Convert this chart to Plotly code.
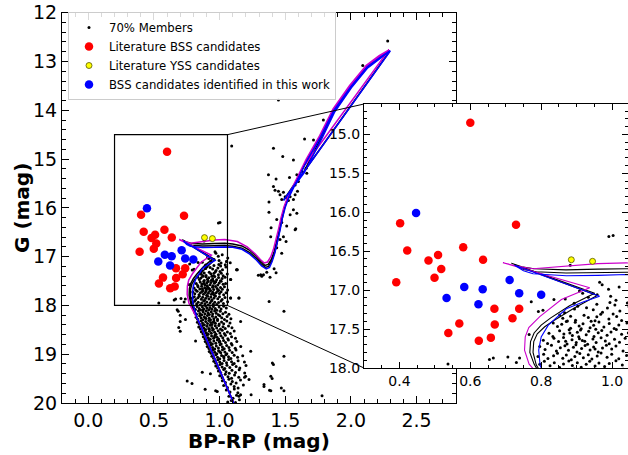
import plotly.graph_objects as go

# ---------------- data ----------------
member_points = [
    (0.882,16.68),(0.965,16.90),(0.972,16.93),(1.02,16.96),(0.99,16.99),(0.991,16.31),(1.003,16.30),
    (0.908,17.01),(0.917,17.04),(0.958,17.06),(0.996,17.08),(1.062,17.03),(1.053,17.10),(0.933,17.09),
    (0.772,17.15),(0.836,17.12),(0.994,17.16),(1.008,17.19),(1.011,17.13),(0.957,17.18),(0.893,17.17),(0.868,17.115),(1.043,17.165),(1.081,17.125),
    (0.805,17.26),(0.792,17.275),(0.928,17.225),(0.947,17.252),(0.973,17.283),(0.987,17.231),(0.866,17.292),(0.894,17.243),(1.022,17.268),(1.13,17.27),(1.048,17.214),(0.903,17.206),
    (0.852,17.318),(0.861,17.362),(0.883,17.334),(0.897,17.387),(0.921,17.322),(0.933,17.351),(0.952,17.394),(0.968,17.309),(0.991,17.372),(1.013,17.338),(1.027,17.391),(0.874,17.395),(0.957,17.343),(1.003,17.305),(1.058,17.355),
    (0.834,17.422),(0.846,17.468),(0.858,17.437),(0.883,17.489),(0.896,17.413),(0.907,17.462),(0.918,17.431),(0.938,17.482),(0.948,17.451),(0.963,17.409),(0.977,17.473),(0.992,17.428),(1.006,17.492),(1.019,17.447),(1.042,17.421),(0.913,17.497),(0.871,17.404),(1.084,17.471),(0.941,17.401),
    (0.766,17.57),(0.822,17.553),(0.833,17.594),(0.852,17.521),(0.864,17.562),(0.879,17.508),(0.888,17.583),(0.902,17.541),(0.911,17.512),(0.927,17.574),(0.934,17.529),(0.949,17.596),(0.961,17.548),(0.971,17.517),(0.986,17.579),(0.997,17.538),(1.012,17.506),(1.027,17.566),(1.046,17.551),(0.906,17.598),(0.954,17.503),(0.881,17.549),
    (0.806,17.643),(0.818,17.684),(0.836,17.619),(0.849,17.661),(0.863,17.607),(0.873,17.692),(0.887,17.638),(0.899,17.671),(0.908,17.623),(0.923,17.657),(0.931,17.694),(0.946,17.628),(0.955,17.672),(0.969,17.611),(0.981,17.654),(0.992,17.688),(1.007,17.632),(1.021,17.669),(1.037,17.617),(1.061,17.683),(0.916,17.646),(0.869,17.658),
    (0.796,17.724),(0.811,17.763),(0.829,17.708),(0.843,17.781),(0.854,17.739),(0.867,17.714),(0.877,17.772),(0.891,17.733),(0.901,17.793),(0.914,17.748),(0.924,17.711),(0.938,17.769),(0.948,17.729),(0.961,17.794),(0.973,17.742),(0.984,17.709),(0.999,17.757),(1.011,17.719),(1.031,17.783),(1.049,17.738),(0.898,17.702),(0.952,17.756),
    (0.791,17.853),(0.807,17.822),(0.819,17.879),(0.835,17.843),(0.846,17.811),(0.861,17.874),(0.871,17.832),(0.885,17.893),(0.895,17.851),(0.909,17.814),(0.919,17.868),(0.933,17.829),(0.943,17.884),(0.958,17.846),(0.969,17.806),(0.986,17.862),(0.999,17.823),(1.019,17.881),(1.041,17.838),(0.654,17.89),(0.665,17.87),(0.706,17.86),(0.739,17.87),(1.084,17.85),(1.147,17.85),
    (0.73,17.93),(0.796,17.951),(0.809,17.914),(0.825,17.972),(0.837,17.933),(0.852,17.992),(0.863,17.948),(0.878,17.909),(0.888,17.968),(0.902,17.931),(0.913,17.989),(0.927,17.952),(0.937,17.912),(0.952,17.974),(0.963,17.936),(0.979,17.982),(0.992,17.941),(1.011,17.908),(1.029,17.962),(1.061,17.923),(1.377,17.92),(0.537,17.95),
    (0.801,18.042),(0.816,18.081),(0.829,18.021),(0.844,18.063),(0.855,18.092),(0.869,18.034),(0.879,18.071),(0.893,18.012),(0.903,18.054),(0.917,18.088),(0.927,18.043),(0.941,18.079),(0.952,18.024),(0.967,18.061),(0.979,18.097),(0.996,18.031),(1.011,18.074),(1.031,18.015),(1.051,18.053),(0.677,18.09),(0.873,18.096),
    (0.685,18.12),(0.811,18.143),(0.824,18.182),(0.839,18.114),(0.85,18.163),(0.864,18.191),(0.874,18.132),(0.888,18.171),(0.898,18.108),(0.912,18.152),(0.922,18.188),(0.936,18.129),(0.947,18.174),(0.962,18.113),(0.974,18.158),(0.991,18.193),(1.005,18.121),(1.025,18.169),(1.045,18.141),(1.071,18.183),(1.49,18.12),(0.70,18.2),
    (0.74,18.29),(0.821,18.241),(0.833,18.283),(0.848,18.214),(0.859,18.252),(0.873,18.292),(0.883,18.231),(0.897,18.268),(0.907,18.209),(0.921,18.259),(0.931,18.294),(0.945,18.223),(0.956,18.271),(0.971,18.239),(0.984,18.284),(1.001,18.212),(1.016,18.253),(1.037,18.288),(1.057,18.227),(1.086,18.272),(0.891,18.256),
    (0.70,18.33),(0.831,18.344),(0.844,18.381),(0.859,18.313),(0.87,18.362),(0.884,18.394),(0.894,18.328),(0.908,18.371),(0.918,18.309),(0.932,18.352),(0.942,18.391),(0.957,18.321),(0.968,18.364),(0.984,18.311),(0.997,18.383),(1.015,18.342),(1.031,18.374),(1.055,18.318),(1.079,18.361),(1.16,18.33),(0.951,18.347),
    (0.689,18.45),(0.841,18.443),(0.854,18.482),(0.869,18.414),(0.88,18.461),(0.894,18.491),(0.904,18.428),(0.918,18.472),(0.928,18.407),(0.942,18.453),(0.952,18.489),(0.967,18.419),(0.978,18.462),(0.994,18.411),(1.007,18.481),(1.026,18.438),(1.043,18.474),(1.068,18.422),(1.094,18.459),(0.921,18.486),
    (0.70,18.53),(0.861,18.542),(0.873,18.581),(0.888,18.513),(0.899,18.562),(0.913,18.592),(0.923,18.529),(0.937,18.571),(0.947,18.508),(0.962,18.552),(0.973,18.589),(0.989,18.521),(1.002,18.563),(1.02,18.511),(1.036,18.578),(1.059,18.543),(1.082,18.574),(1.111,18.522),
    (0.876,18.643),(0.888,18.684),(0.903,18.612),(0.914,18.661),(0.929,18.693),(0.939,18.628),(0.954,18.672),(0.965,18.609),(0.981,18.652),(0.993,18.688),(1.01,18.622),(1.024,18.664),(1.044,18.613),(1.063,18.681),(1.091,18.642),(1.121,18.671),(0.961,18.647),
    (0.817,18.73),(0.891,18.741),(0.903,18.782),(0.919,18.713),(0.93,18.761),(0.945,18.792),(0.956,18.728),(0.971,18.773),(0.983,18.709),(0.999,18.754),(1.012,18.789),(1.03,18.721),(1.045,18.762),(1.067,18.711),(1.089,18.779),(1.131,18.741),(1.001,18.736),
    (0.906,18.843),(0.919,18.881),(0.935,18.812),(0.947,18.862),(0.963,18.891),(0.975,18.831),(0.991,18.873),(1.004,18.808),(1.021,18.852),(1.035,18.888),(1.054,18.823),(1.071,18.864),(1.095,18.812),(1.119,18.879),(1.161,18.842),
    (0.921,18.942),(0.935,18.981),(0.951,18.912),(0.963,18.961),(0.979,18.992),(0.992,18.928),(1.009,18.972),(1.022,18.909),(1.04,18.954),(1.055,18.988),(1.076,18.921),(1.096,18.963),(1.125,18.914),(1.237,18.94),(1.001,18.947),
    (0.941,19.043),(0.954,19.081),(0.971,19.012),(0.984,19.061),(1.001,19.092),(1.015,19.028),(1.033,19.072),(1.048,19.009),(1.068,19.054),(1.086,19.088),(1.111,19.021),(1.137,19.063),(1.176,19.034),(1.49,19.04),(1.031,19.046),
    (0.956,19.142),(0.969,19.181),(0.987,19.112),(1.001,19.162),(1.019,19.191),(1.034,19.128),(1.053,19.173),(1.069,19.109),(1.091,19.154),(1.111,19.189),(1.141,19.133),(1.189,19.162),(1.402,19.18),(1.41,19.21),
    (0.971,19.243),(0.985,19.281),(1.004,19.212),(1.019,19.261),(1.039,19.292),(1.056,19.228),(1.078,19.272),(1.099,19.209),(1.126,19.254),(1.154,19.284),(1.201,19.232),
    (0.868,19.37),(0.93,19.40),(0.991,19.343),(1.009,19.381),(1.031,19.312),(1.049,19.362),(1.073,19.391),(1.094,19.328),(1.121,19.373),(1.149,19.321),(1.191,19.384),
    (1.001,19.442),(1.019,19.481),(1.043,19.412),(1.064,19.462),(1.091,19.492),(1.114,19.428),(1.146,19.472),(1.19,19.47),(1.198,19.45),(1.4,19.5),(1.39,19.45),
    (0.753,19.55),(0.79,19.6),(1.224,19.52),(1.021,19.542),(1.044,19.581),(1.071,19.512),(1.097,19.561),(1.126,19.592),(1.159,19.528),
    (1.338,19.62),(1.031,19.643),(1.059,19.682),(1.086,19.612),(1.111,19.661),(1.141,19.691),(1.181,19.632),(1.47,19.69),(1.338,19.66),
    (0.89,19.72),(0.97,19.75),(0.982,19.765),(1.39,19.75),(1.49,19.75),(1.38,19.74),(1.051,19.733),(1.079,19.772),(1.112,19.711),(1.139,19.792),
    (1.16,19.83),(1.24,19.83),(1.147,19.86),(1.78,19.85),(1.071,19.861),(1.102,19.902),(1.129,19.843),(1.089,19.951),(1.151,19.932),(1.062,19.981),(1.121,19.992),
    # subgiant / red giant branch and field
    (1.448,13.79),(1.092,14.73),(1.41,14.78),(1.647,14.59),(1.715,14.61),(1.79,14.2),(1.481,14.95),(1.562,15.02),
    (1.372,15.32),(1.43,15.41),(1.532,15.38),(1.588,15.32),(1.60,15.46),(1.575,15.53),(1.626,15.25),(1.664,15.29),(1.659,15.19),
    (1.41,15.56),(1.422,15.64),(1.448,15.66),(1.46,15.73),(1.486,15.68),(1.499,15.77),(1.511,15.80),(1.473,15.83),(1.524,15.85),
    (1.537,15.77),(1.562,15.83),(1.575,15.73),(1.593,15.66),(1.562,16.04),(1.588,16.11),(1.537,16.14),(1.376,15.88),(1.376,16.09),
    (1.435,16.24),(1.473,16.30),(1.511,16.37),(1.575,16.45),(1.392,16.41),(1.486,16.59),(1.46,16.65),(1.506,16.69),(1.435,16.82),(1.473,16.93),
    (1.053,17.10),(1.13,17.27),(1.295,17.38),(1.321,17.40),(1.334,17.37),(1.359,17.32),(1.384,17.42),(1.43,17.33),(1.415,17.25),
    (1.389,16.59),(1.58,16.43),(1.084,17.47),(1.135,17.27),(1.313,17.37),(2.09,13.08),(2.28,12.58),(1.147,17.85),(1.084,17.85),
]
member_bp_rp = [p[0] for p in member_points]
member_g = [p[1] for p in member_points]

lit_bss_bp_rp = [0.600, 0.402, 0.422, 0.482, 0.509, 0.518, 0.499, 0.391, 0.580, 0.636,
                 0.729, 0.668, 0.738, 0.719, 0.669, 0.569, 0.538, 0.624, 0.658]
lit_bss_g = [14.85, 16.14, 16.49, 16.62, 16.55, 16.73, 16.84, 16.90, 16.45, 16.61,
             16.16, 17.24, 17.24, 17.36, 17.44, 17.43, 17.55, 17.65, 17.61]

lit_yss_bp_rp = [0.885, 0.945]
lit_yss_g = [16.61, 16.63]

new_bss_bp_rp = [0.447, 0.533, 0.583, 0.635, 0.623, 0.711, 0.738, 0.800]
new_bss_g = [16.01, 17.10, 16.96, 16.99, 17.18, 16.87, 17.04, 17.06]

# isochrones (BP-RP, G)
iso_black_a = [
    (1.107,20.0),(1.075,19.8),(1.045,19.6),(1.015,19.4),(0.985,19.2),(0.952,19.0),(0.92,18.8),(0.888,18.6),
    (0.857,18.42),(0.83,18.27),(0.80,18.1),(0.78,17.95),(0.768,17.8),(0.77,17.66),(0.78,17.55),(0.80,17.45),
    (0.826,17.36),(0.88,17.2),(0.951,17.04),(0.716,16.655),(0.745,16.70),(0.78,16.725),(0.87,16.74),(0.96,16.73),
    (1.04,16.725),(1.10,16.74),(1.17,16.78),(1.23,16.87),(1.28,16.99),(1.315,17.1),(1.345,17.18),(1.37,17.16),
    (1.395,17.05),(1.415,16.9),(1.435,16.7),(1.455,16.45),(1.473,16.2),(1.495,15.98),(1.524,15.77),(1.588,15.42),
    (1.664,15.02),(1.766,14.54),(1.868,13.99),(1.995,13.51),(2.122,13.1),(2.22,12.9),(2.295,12.79),
    (1.488,15.84),(1.56,15.55),(1.64,15.27),(1.69,15.0),(1.775,14.56),(1.873,14.02),(2.0,13.53),(2.125,13.12),(2.225,12.91),(2.295,12.79),
]
iso_black_b = [
    (1.107,20.0),(1.075,19.8),(1.045,19.6),(1.015,19.4),(0.985,19.2),(0.952,19.0),(0.92,18.8),(0.888,18.6),
    (0.857,18.42),(0.83,18.27),(0.805,18.1),(0.786,17.96),(0.777,17.8),(0.779,17.66),(0.789,17.56),(0.81,17.47),
    (0.836,17.39),(0.89,17.24),(0.958,17.07),(0.725,16.675),(0.75,16.735),(0.785,16.765),(0.87,16.78),(0.96,16.775),
    (1.04,16.77),(1.10,16.785),(1.17,16.825),(1.23,16.915),(1.28,17.035),(1.315,17.14),(1.347,17.22),(1.373,17.2),
    (1.398,17.08),(1.418,16.92),(1.438,16.72),(1.457,16.46),(1.475,16.21),(1.496,15.985),(1.524,15.77),(1.588,15.42),
    (1.664,15.02),(1.766,14.54),(1.868,13.99),(1.995,13.51),(2.122,13.1),(2.22,12.9),(2.295,12.79),
]
iso_magenta = [
    (1.107,20.0),(1.075,19.8),(1.045,19.6),(1.015,19.4),(0.985,19.2),(0.952,19.0),(0.92,18.8),(0.888,18.6),
    (0.857,18.42),(0.83,18.27),(0.795,18.1),(0.766,17.95),(0.753,17.77),(0.755,17.6),(0.765,17.48),(0.796,17.34),
    (0.857,17.12),(0.937,16.97),(0.692,16.648),(0.73,16.69),(0.777,16.725),(0.871,16.69),(0.96,16.66),(1.04,16.65),
    (1.135,16.69),(1.21,16.8),(1.27,16.94),(1.31,17.06),(1.34,17.13),(1.365,17.11),(1.39,17.0),(1.41,16.85),
    (1.43,16.65),(1.45,16.42),(1.468,16.2),(1.49,15.98),(1.52,15.77),(1.585,15.41),(1.66,15.0),(1.762,14.52),
    (1.864,13.97),(1.99,13.49),(2.117,13.08),(2.215,12.88),(2.29,12.76),
    (1.655,15.1),(1.70,14.88),(1.77,14.53),(1.87,14.0),(1.995,13.5),(2.12,13.09),(2.22,12.89),(2.29,12.76),
]
iso_blue = [
    (1.107,20.0),(1.075,19.8),(1.045,19.6),(1.015,19.4),(0.985,19.2),(0.952,19.0),(0.92,18.8),(0.888,18.6),
    (0.857,18.42),(0.83,18.27),(0.812,18.1),(0.797,17.97),(0.793,17.77),(0.80,17.6),(0.82,17.45),(0.85,17.33),
    (0.871,17.24),(0.92,17.15),(0.965,17.08),(0.725,16.68),(0.75,16.75),(0.777,16.79),(0.871,16.815),(0.96,16.81),
    (1.04,16.80),(1.10,16.81),(1.17,16.85),(1.23,16.95),(1.28,17.07),(1.32,17.19),(1.355,17.25),(1.38,17.22),
    (1.40,17.1),(1.42,16.93),(1.44,16.72),(1.46,16.46),(1.478,16.21),(1.5,15.99),(1.528,15.78),(1.59,15.43),
    (1.666,15.03),(1.768,14.55),(1.87,14.0),(1.998,13.52),(2.125,13.11),(2.225,12.91),(2.30,12.78),
    (1.486,15.85),(1.565,15.56),(1.645,15.28),(1.695,15.01),(1.78,14.57),(1.877,14.03),(2.003,13.54),(2.128,13.13),(2.228,12.92),(2.30,12.78),
]

main_xlim = [-0.2, 2.8]
main_ylim = [20, 12]
inset_xlim = [0.3, 1.045]
inset_ylim = [18.0, 14.61]
zoom_box_bp_rp = [0.2, 1.06]
zoom_box_g = [14.5, 18.0]

# ---------------- layout geometry ----------------
W, H = 628, 455
main_dom_x = [62 / W, 456 / W]
main_dom_y = [1 - 403 / H, 1 - 12.7 / H]
inset_dom_x = [364 / W, 1.0]
inset_dom_y = [1 - 368 / H, 1 - 104 / H]

FONT = "DejaVu Sans"
fig = go.Figure()


def add_all(xa, ya, iso_w, show):
    fig.add_trace(go.Scatter(x=member_bp_rp, y=member_g, mode="markers", xaxis=xa, yaxis=ya,
                             marker=dict(color="black", size=3), name="70% Members", showlegend=show))
    for pts, col in [(iso_black_a, "black"), (iso_black_b, "black"),
                     (iso_magenta, "#cc00cc"), (iso_blue, "#0000ff")]:
        fig.add_trace(go.Scatter(x=[p[0] for p in pts], y=[p[1] for p in pts], mode="lines",
                                 xaxis=xa, yaxis=ya, line=dict(color=col, width=iso_w),
                                 showlegend=False, hoverinfo="skip"))
    fig.add_trace(go.Scatter(x=lit_bss_bp_rp, y=lit_bss_g, mode="markers", xaxis=xa, yaxis=ya,
                             marker=dict(color="#ff0000", size=8.5), name="Literature BSS candidates",
                             showlegend=show))
    fig.add_trace(go.Scatter(x=lit_yss_bp_rp, y=lit_yss_g, mode="markers", xaxis=xa, yaxis=ya,
                             marker=dict(color="#ffff00", size=6, line=dict(color="#555500", width=0.8)),
                             name="Literature YSS candidates", showlegend=show))
    fig.add_trace(go.Scatter(x=new_bss_bp_rp, y=new_bss_g, mode="markers", xaxis=xa, yaxis=ya,
                             marker=dict(color="#0000ff", size=8.5),
                             name="BSS candidates identified in this work", showlegend=show))


add_all("x", "y", 1.5, True)
add_all("x2", "y2", 1.1, False)

ax_common = dict(showline=True, linecolor="black", linewidth=1.2, mirror="ticks", ticks="inside",
                 tickcolor="black", showgrid=False, zeroline=False, automargin=False)

fig.update_layout(
    xaxis=dict(domain=main_dom_x, range=main_xlim, dtick=0.5, tick0=0, tickformat=".1f", ticklen=7,
               tickwidth=1.1, tickfont=dict(family=FONT, color="black", size=19),
               minor=dict(ticks="inside", dtick=0.1, ticklen=4, tickcolor="black", showgrid=False),
               anchor="y", **ax_common),
    yaxis=dict(domain=main_dom_y, range=main_ylim, dtick=1, tick0=0, ticklen=7, tickwidth=1.1,
               tickfont=dict(family=FONT, color="black", size=19),
               minor=dict(ticks="inside", dtick=0.2, ticklen=4, tickcolor="black", showgrid=False),
               anchor="x", **ax_common),
    xaxis2=dict(domain=inset_dom_x, range=inset_xlim, dtick=0.2, tick0=0, tickformat=".1f", ticklen=6,
                tickfont=dict(family=FONT, color="black", size=14),
                minor=dict(ticks="inside", dtick=0.05, ticklen=3, tickcolor="black", showgrid=False),
                anchor="y2", **ax_common),
    yaxis2=dict(domain=inset_dom_y, range=inset_ylim, dtick=0.5, tick0=0, tickformat=".1f", ticklen=6,
                tickfont=dict(family=FONT, color="black", size=14),
                minor=dict(ticks="inside", dtick=0.1, ticklen=3, tickcolor="black", showgrid=False),
                anchor="x2", **ax_common),
)


def to_paper(bx, g):
    fx = (bx - main_xlim[0]) / (main_xlim[1] - main_xlim[0])
    fy = (g - main_ylim[0]) / (main_ylim[1] - main_ylim[0])
    return (main_dom_x[0] + fx * (main_dom_x[1] - main_dom_x[0]),
            main_dom_y[0] + fy * (main_dom_y[1] - main_dom_y[0]))


fig.add_shape(type="rect", xref="x", yref="y", x0=zoom_box_bp_rp[0], x1=zoom_box_bp_rp[1],
              y0=zoom_box_g[0], y1=zoom_box_g[1], line=dict(color="black", width=1.2), layer="above")
tr = to_paper(zoom_box_bp_rp[1], zoom_box_g[0])
br = to_paper(zoom_box_bp_rp[1], zoom_box_g[1])
fig.add_shape(type="line", xref="paper", yref="paper", x0=tr[0], y0=tr[1], x1=inset_dom_x[0], y1=inset_dom_y[1],
              line=dict(color="black", width=1))
fig.add_shape(type="line", xref="paper", yref="paper", x0=br[0], y0=br[1], x1=inset_dom_x[0], y1=inset_dom_y[0],
              line=dict(color="black", width=1))

fig.add_annotation(text="<b>G (mag)</b>", xref="paper", yref="paper", x=22 / W, y=1 - 208 / H,
                   xanchor="center", yanchor="middle",
                   showarrow=False, textangle=-90, font=dict(family=FONT, size=20, color="black"))
fig.add_annotation(text="<b>BP-RP (mag)</b>", xref="paper", yref="paper", x=259 / W, y=1 - 441 / H,
                   xanchor="center", yanchor="middle",
                   showarrow=False, font=dict(family=FONT, size=20, color="black"))

fig.update_layout(
    width=W, height=H, margin=dict(l=0, r=0, t=0, b=0),
    paper_bgcolor="white", plot_bgcolor="white", template="none",
    font=dict(family=FONT, color="black"),
    showlegend=True,
    legend=dict(x=68 / W, y=1 - 12 / H, xanchor="left", yanchor="top",
                bgcolor="rgba(255,255,255,0.85)", bordercolor="#cccccc", borderwidth=1,
                font=dict(family=FONT, size=11.7, color="black"), tracegroupgap=0),
)

fig.write_html("out.html", config={"displayModeBar": False},
               post_script="document.body.style.margin='0px';document.body.style.padding='0px';")
